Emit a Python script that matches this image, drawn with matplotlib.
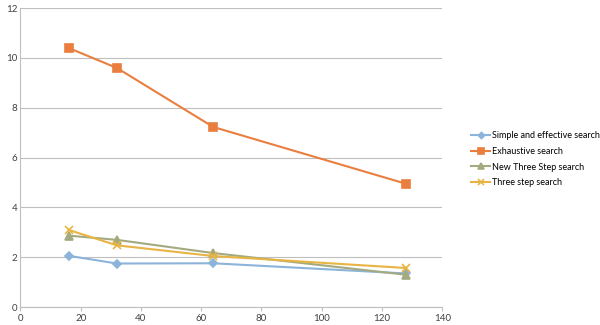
import matplotlib
matplotlib.use("Agg")
import matplotlib.pyplot as plt

plt.rcParams['font.family'] = ['Lato', 'DejaVu Sans']

block_sizes = [16, 32, 64, 128]
simple_effective = [2.06, 1.75, 1.76, 1.35]
exhaustive = [10.4, 9.6, 7.23, 4.95]
new_three_step = [2.87, 2.70, 2.17, 1.30]
three_step = [3.10, 2.48, 2.05, 1.57]

series = [
    ("Simple and effective search", simple_effective, "#8CB3DA", "D", 4.5),
    ("Exhaustive search", exhaustive, "#E97E3F", "s", 5.5),
    ("New Three Step search", new_three_step, "#A4AA80", "^", 5.5),
    ("Three step search", three_step, "#E8B443", "x", 5.5),
]

fig = plt.figure(figsize=(6, 3.25), dpi=100)
ax = fig.add_axes([0.034, 0.055, 0.703, 0.92])

for label, vals, color, marker, ms in series:
    ax.plot(block_sizes, vals, color=color, lw=1.5, marker=marker, ms=ms,
            mew=1.2, label=label, zorder=3)

ax.set_xlim(0, 140)
ax.set_ylim(0, 12)
ax.set_xticks(range(0, 141, 20))
ax.set_yticks(range(0, 13, 2))
ax.grid(axis='y', color='#BFBFBF', lw=0.8)
ax.set_axisbelow(True)
for side in ['top', 'right']:
    ax.spines[side].set_visible(False)
for side in ['left', 'bottom']:
    ax.spines[side].set_color('#BFBFBF')
    ax.spines[side].set_linewidth(0.8)
ax.tick_params(axis='both', labelsize=7, colors='#404040', length=3,
               color='#BFBFBF', pad=2)
ax.tick_params(axis='y', length=0)

ax.legend(loc='center left', bbox_to_anchor=(1.048, 0.495), frameon=False,
          fontsize=6.5, handlelength=2.2, handletextpad=0.2, labelspacing=0.75,
          markerscale=0.7)

fig.savefig("out.png", dpi=100)
